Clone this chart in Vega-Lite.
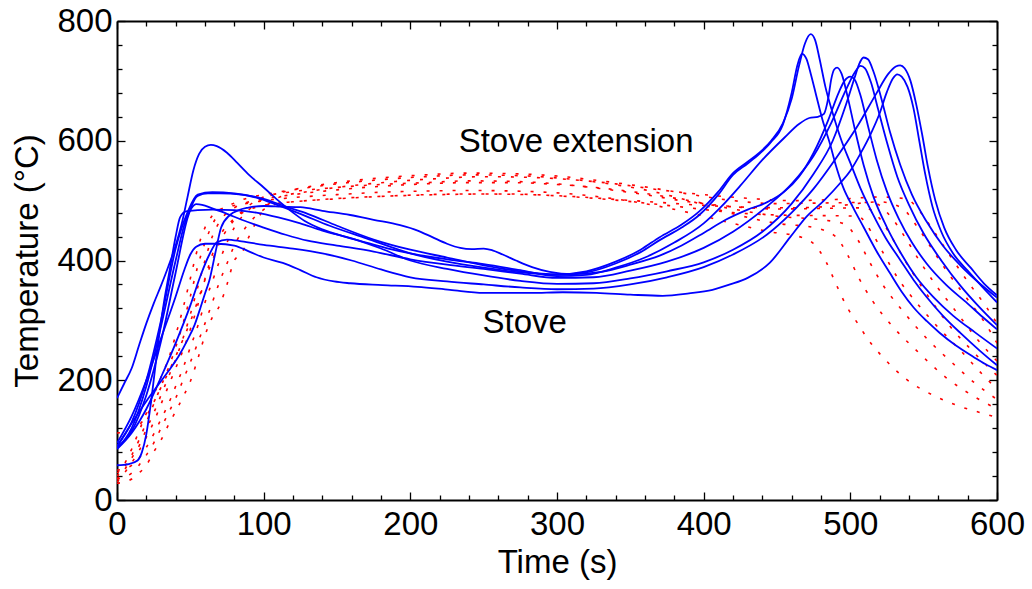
{
  "$schema": "https://vega.github.io/schema/vega-lite/v6.json",
  "width": 880,
  "height": 479,
  "autosize": {"type": "none"},
  "padding": {"left": 117, "top": 21, "right": 35, "bottom": 89},
  "background": "white",
  "config": {"view": {"stroke": null}},
  "datasets": {
    "stove": [
      {"s":"A","t":0,"T":88},{"s":"A","t":10,"T":115},{"s":"A","t":20,"T":175},{"s":"A","t":30,"T":265},{"s":"A","t":40,"T":380},{"s":"A","t":48,"T":470},{"s":"A","t":55,"T":508},{"s":"A","t":62,"T":512},{"s":"A","t":70,"T":512},{"s":"A","t":85,"T":510},{"s":"A","t":100,"T":503},{"s":"A","t":115,"T":490},{"s":"A","t":130,"T":478},{"s":"A","t":150,"T":458},{"s":"A","t":175,"T":435},{"s":"A","t":200,"T":418},{"s":"A","t":225,"T":405},{"s":"A","t":250,"T":392},{"s":"A","t":275,"T":382},{"s":"A","t":300,"T":377},{"s":"A","t":320,"T":382},{"s":"A","t":340,"T":398},{"s":"A","t":357,"T":418},{"s":"A","t":370,"T":439},{"s":"A","t":385,"T":460},{"s":"A","t":397,"T":482},{"s":"A","t":410,"T":515},{"s":"A","t":420,"T":546},{"s":"A","t":430,"T":565},{"s":"A","t":438,"T":580},{"s":"A","t":446,"T":600},{"s":"A","t":454,"T":629},{"s":"A","t":460,"T":670},{"s":"A","t":465,"T":725},{"s":"A","t":469,"T":762},{"s":"A","t":473,"T":778},{"s":"A","t":476,"T":768},{"s":"A","t":479,"T":737},{"s":"A","t":483,"T":690},{"s":"A","t":488,"T":646},{"s":"A","t":494,"T":600},{"s":"A","t":500,"T":563},{"s":"A","t":507,"T":520},{"s":"A","t":515,"T":479},{"s":"A","t":524,"T":438},{"s":"A","t":534,"T":401},{"s":"A","t":543,"T":368},{"s":"A","t":552,"T":339},{"s":"A","t":563,"T":308},{"s":"A","t":575,"T":279},{"s":"A","t":588,"T":250},{"s":"A","t":600,"T":225},
      {"s":"B","t":0,"T":90},{"s":"B","t":10,"T":130},{"s":"B","t":20,"T":200},{"s":"B","t":30,"T":300},{"s":"B","t":40,"T":420},{"s":"B","t":48,"T":480},{"s":"B","t":55,"T":510},{"s":"B","t":65,"T":514},{"s":"B","t":80,"T":512},{"s":"B","t":95,"T":505},{"s":"B","t":110,"T":492},{"s":"B","t":125,"T":478},{"s":"B","t":145,"T":458},{"s":"B","t":170,"T":437},{"s":"B","t":200,"T":412},{"s":"B","t":225,"T":398},{"s":"B","t":250,"T":388},{"s":"B","t":275,"T":380},{"s":"B","t":300,"T":376},{"s":"B","t":320,"T":380},{"s":"B","t":340,"T":395},{"s":"B","t":357,"T":414},{"s":"B","t":370,"T":434},{"s":"B","t":385,"T":455},{"s":"B","t":397,"T":476},{"s":"B","t":410,"T":510},{"s":"B","t":420,"T":543},{"s":"B","t":430,"T":562},{"s":"B","t":438,"T":578},{"s":"B","t":446,"T":598},{"s":"B","t":454,"T":627},{"s":"B","t":460,"T":680},{"s":"B","t":464,"T":727},{"s":"B","t":467,"T":745},{"s":"B","t":470,"T":737},{"s":"B","t":473,"T":712},{"s":"B","t":477,"T":673},{"s":"B","t":481,"T":635},{"s":"B","t":486,"T":596},{"s":"B","t":490,"T":560},{"s":"B","t":495,"T":523},{"s":"B","t":502,"T":488},{"s":"B","t":509,"T":456},{"s":"B","t":518,"T":415},{"s":"B","t":527,"T":379},{"s":"B","t":535,"T":348},{"s":"B","t":543,"T":322},{"s":"B","t":552,"T":299},{"s":"B","t":561,"T":279},{"s":"B","t":572,"T":258},{"s":"B","t":584,"T":239},{"s":"B","t":592,"T":227},{"s":"B","t":600,"T":217},
      {"s":"C","t":0,"T":170},{"s":"C","t":5,"T":195},{"s":"C","t":10,"T":220},{"s":"C","t":15,"T":258},{"s":"C","t":20,"T":295},{"s":"C","t":25,"T":328},{"s":"C","t":30,"T":358},{"s":"C","t":35,"T":390},{"s":"C","t":40,"T":425},{"s":"C","t":44,"T":460},{"s":"C","t":48,"T":505},{"s":"C","t":52,"T":550},{"s":"C","t":56,"T":578},{"s":"C","t":60,"T":590},{"s":"C","t":64,"T":593},{"s":"C","t":68,"T":591},{"s":"C","t":75,"T":580},{"s":"C","t":82,"T":563},{"s":"C","t":90,"T":543},{"s":"C","t":100,"T":522},{"s":"C","t":110,"T":500},{"s":"C","t":120,"T":480},{"s":"C","t":128,"T":466},{"s":"C","t":140,"T":452},{"s":"C","t":155,"T":440},{"s":"C","t":170,"T":430},{"s":"C","t":185,"T":420},{"s":"C","t":200,"T":412},{"s":"C","t":225,"T":402},{"s":"C","t":250,"T":394},{"s":"C","t":275,"T":384},{"s":"C","t":300,"T":374},{"s":"C","t":320,"T":376},{"s":"C","t":340,"T":388},{"s":"C","t":360,"T":405},{"s":"C","t":380,"T":430},{"s":"C","t":400,"T":462},{"s":"C","t":412,"T":490},{"s":"C","t":425,"T":525},{"s":"C","t":440,"T":568},{"s":"C","t":455,"T":605},{"s":"C","t":465,"T":628},{"s":"C","t":472,"T":638},{"s":"C","t":478,"T":640},{"s":"C","t":482,"T":645},{"s":"C","t":485,"T":672},{"s":"C","t":487,"T":703},{"s":"C","t":489,"T":719},{"s":"C","t":491,"T":722},{"s":"C","t":494,"T":712},{"s":"C","t":498,"T":675},{"s":"C","t":503,"T":620},{"s":"C","t":509,"T":560},{"s":"C","t":516,"T":505},{"s":"C","t":525,"T":455},{"s":"C","t":535,"T":410},{"s":"C","t":545,"T":372},{"s":"C","t":557,"T":338},{"s":"C","t":570,"T":308},{"s":"C","t":585,"T":280},{"s":"C","t":600,"T":253},
      {"s":"D","t":0,"T":89},{"s":"D","t":10,"T":128},{"s":"D","t":20,"T":165},{"s":"D","t":28,"T":192},{"s":"D","t":35,"T":215},{"s":"D","t":42,"T":240},{"s":"D","t":48,"T":267},{"s":"D","t":53,"T":293},{"s":"D","t":57,"T":322},{"s":"D","t":60,"T":345},{"s":"D","t":63,"T":367},{"s":"D","t":67,"T":412},{"s":"D","t":71,"T":455},{"s":"D","t":77,"T":476},{"s":"D","t":83,"T":484},{"s":"D","t":89,"T":488},{"s":"D","t":100,"T":491},{"s":"D","t":112,"T":490},{"s":"D","t":125,"T":489},{"s":"D","t":140,"T":483},{"s":"D","t":159,"T":476},{"s":"D","t":175,"T":468},{"s":"D","t":193,"T":459},{"s":"D","t":205,"T":450},{"s":"D","t":215,"T":439},{"s":"D","t":225,"T":428},{"s":"D","t":234,"T":421},{"s":"D","t":242,"T":419},{"s":"D","t":250,"T":420},{"s":"D","t":256,"T":417},{"s":"D","t":263,"T":410},{"s":"D","t":272,"T":400},{"s":"D","t":283,"T":389},{"s":"D","t":295,"T":381},{"s":"D","t":310,"T":377},{"s":"D","t":330,"T":381},{"s":"D","t":350,"T":393},{"s":"D","t":370,"T":408},{"s":"D","t":385,"T":425},{"s":"D","t":400,"T":446},{"s":"D","t":415,"T":468},{"s":"D","t":430,"T":485},{"s":"D","t":443,"T":497},{"s":"D","t":455,"T":515},{"s":"D","t":465,"T":540},{"s":"D","t":475,"T":580},{"s":"D","t":485,"T":635},{"s":"D","t":492,"T":680},{"s":"D","t":496,"T":700},{"s":"D","t":500,"T":707},{"s":"D","t":503,"T":702},{"s":"D","t":507,"T":675},{"s":"D","t":512,"T":625},{"s":"D","t":518,"T":568},{"s":"D","t":525,"T":515},{"s":"D","t":533,"T":470},{"s":"D","t":542,"T":430},{"s":"D","t":552,"T":395},{"s":"D","t":565,"T":360},{"s":"D","t":580,"T":328},{"s":"D","t":590,"T":306},{"s":"D","t":600,"T":285},
      {"s":"E","t":0,"T":86},{"s":"E","t":10,"T":120},{"s":"E","t":20,"T":190},{"s":"E","t":30,"T":290},{"s":"E","t":40,"T":400},{"s":"E","t":47,"T":468},{"s":"E","t":51,"T":488},{"s":"E","t":54,"T":494},{"s":"E","t":58,"T":493},{"s":"E","t":65,"T":487},{"s":"E","t":75,"T":478},{"s":"E","t":85,"T":468},{"s":"E","t":100,"T":455},{"s":"E","t":115,"T":443},{"s":"E","t":130,"T":433},{"s":"E","t":150,"T":425},{"s":"E","t":175,"T":415},{"s":"E","t":200,"T":402},{"s":"E","t":225,"T":393},{"s":"E","t":250,"T":386},{"s":"E","t":275,"T":378},{"s":"E","t":300,"T":371},{"s":"E","t":325,"T":372},{"s":"E","t":350,"T":383},{"s":"E","t":375,"T":398},{"s":"E","t":400,"T":421},{"s":"E","t":420,"T":448},{"s":"E","t":443,"T":490},{"s":"E","t":460,"T":528},{"s":"E","t":475,"T":575},{"s":"E","t":487,"T":630},{"s":"E","t":497,"T":685},{"s":"E","t":503,"T":714},{"s":"E","t":507,"T":725},{"s":"E","t":510,"T":721},{"s":"E","t":514,"T":698},{"s":"E","t":519,"T":652},{"s":"E","t":525,"T":597},{"s":"E","t":532,"T":540},{"s":"E","t":540,"T":493},{"s":"E","t":550,"T":445},{"s":"E","t":562,"T":400},{"s":"E","t":575,"T":358},{"s":"E","t":588,"T":322},{"s":"E","t":600,"T":292},
      {"s":"H","t":0,"T":58},{"s":"H","t":8,"T":60},{"s":"H","t":14,"T":66},{"s":"H","t":17,"T":80},{"s":"H","t":20,"T":110},{"s":"H","t":23,"T":160},{"s":"H","t":26,"T":220},{"s":"H","t":29,"T":280},{"s":"H","t":32,"T":330},{"s":"H","t":36,"T":385},{"s":"H","t":40,"T":440},{"s":"H","t":43,"T":472},{"s":"H","t":47,"T":482},{"s":"H","t":55,"T":484},{"s":"H","t":65,"T":485},{"s":"H","t":80,"T":484},{"s":"H","t":95,"T":480},{"s":"H","t":110,"T":472},{"s":"H","t":125,"T":462},{"s":"H","t":140,"T":450},{"s":"H","t":160,"T":437},{"s":"H","t":180,"T":420},{"s":"H","t":200,"T":400},{"s":"H","t":225,"T":386},{"s":"H","t":250,"T":375},{"s":"H","t":275,"T":366},{"s":"H","t":300,"T":361},{"s":"H","t":325,"T":362},{"s":"H","t":350,"T":370},{"s":"H","t":375,"T":382},{"s":"H","t":400,"T":397},{"s":"H","t":420,"T":418},{"s":"H","t":440,"T":448},{"s":"H","t":460,"T":495},{"s":"H","t":475,"T":545},{"s":"H","t":488,"T":600},{"s":"H","t":497,"T":660},{"s":"H","t":503,"T":706},{"s":"H","t":506,"T":728},{"s":"H","t":509,"T":739},{"s":"H","t":512,"T":736},{"s":"H","t":516,"T":714},{"s":"H","t":521,"T":672},{"s":"H","t":527,"T":615},{"s":"H","t":534,"T":560},{"s":"H","t":542,"T":510},{"s":"H","t":552,"T":465},{"s":"H","t":563,"T":425},{"s":"H","t":575,"T":392},{"s":"H","t":588,"T":362},{"s":"H","t":600,"T":338},
      {"s":"F","t":0,"T":85},{"s":"F","t":10,"T":112},{"s":"F","t":20,"T":152},{"s":"F","t":30,"T":205},{"s":"F","t":40,"T":262},{"s":"F","t":50,"T":325},{"s":"F","t":57,"T":375},{"s":"F","t":63,"T":410},{"s":"F","t":68,"T":430},{"s":"F","t":75,"T":435},{"s":"F","t":85,"T":432},{"s":"F","t":100,"T":426},{"s":"F","t":120,"T":420},{"s":"F","t":140,"T":412},{"s":"F","t":160,"T":400},{"s":"F","t":180,"T":385},{"s":"F","t":200,"T":372},{"s":"F","t":225,"T":365},{"s":"F","t":250,"T":360},{"s":"F","t":275,"T":355},{"s":"F","t":300,"T":352},{"s":"F","t":325,"T":353},{"s":"F","t":350,"T":360},{"s":"F","t":375,"T":372},{"s":"F","t":400,"T":389},{"s":"F","t":420,"T":410},{"s":"F","t":443,"T":443},{"s":"F","t":460,"T":480},{"s":"F","t":475,"T":520},{"s":"F","t":490,"T":570},{"s":"F","t":505,"T":625},{"s":"F","t":518,"T":680},{"s":"F","t":526,"T":712},{"s":"F","t":531,"T":724},{"s":"F","t":534,"T":726},{"s":"F","t":537,"T":721},{"s":"F","t":541,"T":700},{"s":"F","t":545,"T":660},{"s":"F","t":549,"T":610},{"s":"F","t":553,"T":555},{"s":"F","t":558,"T":500},{"s":"F","t":564,"T":455},{"s":"F","t":572,"T":418},{"s":"F","t":582,"T":388},{"s":"F","t":591,"T":362},{"s":"F","t":600,"T":342},
      {"s":"G","t":0,"T":95},{"s":"G","t":10,"T":140},{"s":"G","t":20,"T":200},{"s":"G","t":30,"T":270},{"s":"G","t":40,"T":340},{"s":"G","t":46,"T":385},{"s":"G","t":50,"T":410},{"s":"G","t":54,"T":423},{"s":"G","t":60,"T":428},{"s":"G","t":68,"T":428},{"s":"G","t":80,"T":425},{"s":"G","t":91,"T":414},{"s":"G","t":100,"T":405},{"s":"G","t":113,"T":396},{"s":"G","t":125,"T":384},{"s":"G","t":136,"T":372},{"s":"G","t":148,"T":365},{"s":"G","t":159,"T":362},{"s":"G","t":181,"T":359},{"s":"G","t":205,"T":356},{"s":"G","t":227,"T":351},{"s":"G","t":250,"T":346},{"s":"G","t":282,"T":346},{"s":"G","t":304,"T":347},{"s":"G","t":327,"T":346},{"s":"G","t":350,"T":343},{"s":"G","t":372,"T":341},{"s":"G","t":390,"T":345},{"s":"G","t":406,"T":351},{"s":"G","t":418,"T":360},{"s":"G","t":430,"T":371},{"s":"G","t":445,"T":396},{"s":"G","t":459,"T":439},{"s":"G","t":470,"T":473},{"s":"G","t":482,"T":500},{"s":"G","t":493,"T":529},{"s":"G","t":500,"T":550},{"s":"G","t":507,"T":579},{"s":"G","t":514,"T":612},{"s":"G","t":520,"T":646},{"s":"G","t":525,"T":682},{"s":"G","t":529,"T":704},{"s":"G","t":532,"T":711},{"s":"G","t":535,"T":707},{"s":"G","t":539,"T":690},{"s":"G","t":543,"T":655},{"s":"G","t":547,"T":600},{"s":"G","t":551,"T":545},{"s":"G","t":556,"T":490},{"s":"G","t":562,"T":448},{"s":"G","t":570,"T":412},{"s":"G","t":580,"T":383},{"s":"G","t":590,"T":356},{"s":"G","t":600,"T":330}
    ],
    "ext": [
      {"s":"r1","t":0,"T":45},{"s":"r1","t":5,"T":60},{"s":"r1","t":10,"T":85},{"s":"r1","t":15,"T":115},{"s":"r1","t":20,"T":145},{"s":"r1","t":25,"T":175},{"s":"r1","t":30,"T":205},{"s":"r1","t":35,"T":235},{"s":"r1","t":40,"T":275},{"s":"r1","t":45,"T":320},{"s":"r1","t":50,"T":370},{"s":"r1","t":55,"T":420},{"s":"r1","t":60,"T":455},{"s":"r1","t":65,"T":475},{"s":"r1","t":70,"T":485},{"s":"r1","t":80,"T":492},{"s":"r1","t":90,"T":496},{"s":"r1","t":100,"T":500},{"s":"r1","t":120,"T":505},{"s":"r1","t":150,"T":510},{"s":"r1","t":180,"T":514},{"s":"r1","t":210,"T":516},{"s":"r1","t":240,"T":517},{"s":"r1","t":270,"T":516},{"s":"r1","t":300,"T":513},{"s":"r1","t":330,"T":506},{"s":"r1","t":360,"T":495},{"s":"r1","t":390,"T":480},{"s":"r1","t":420,"T":462},{"s":"r1","t":445,"T":448},{"s":"r1","t":465,"T":440},{"s":"r1","t":475,"T":428},{"s":"r1","t":483,"T":400},{"s":"r1","t":490,"T":362},{"s":"r1","t":498,"T":321},{"s":"r1","t":505,"T":295},{"s":"r1","t":511,"T":272},{"s":"r1","t":522,"T":239},{"s":"r1","t":538,"T":202},{"s":"r1","t":559,"T":172},{"s":"r1","t":575,"T":156},{"s":"r1","t":590,"T":145},{"s":"r1","t":600,"T":138},
      {"s":"r2","t":0,"T":40},{"s":"r2","t":5,"T":55},{"s":"r2","t":10,"T":75},{"s":"r2","t":15,"T":100},{"s":"r2","t":20,"T":130},{"s":"r2","t":25,"T":160},{"s":"r2","t":30,"T":190},{"s":"r2","t":35,"T":220},{"s":"r2","t":40,"T":255},{"s":"r2","t":45,"T":295},{"s":"r2","t":50,"T":340},{"s":"r2","t":55,"T":390},{"s":"r2","t":60,"T":430},{"s":"r2","t":65,"T":460},{"s":"r2","t":70,"T":480},{"s":"r2","t":80,"T":496},{"s":"r2","t":90,"T":505},{"s":"r2","t":100,"T":510},{"s":"r2","t":120,"T":518},{"s":"r2","t":150,"T":528},{"s":"r2","t":180,"T":535},{"s":"r2","t":210,"T":540},{"s":"r2","t":240,"T":543},{"s":"r2","t":270,"T":542},{"s":"r2","t":300,"T":538},{"s":"r2","t":330,"T":530},{"s":"r2","t":360,"T":518},{"s":"r2","t":390,"T":500},{"s":"r2","t":420,"T":478},{"s":"r2","t":450,"T":462},{"s":"r2","t":475,"T":455},{"s":"r2","t":490,"T":440},{"s":"r2","t":498,"T":410},{"s":"r2","t":506,"T":370},{"s":"r2","t":515,"T":333},{"s":"r2","t":528,"T":292},{"s":"r2","t":545,"T":250},{"s":"r2","t":565,"T":205},{"s":"r2","t":585,"T":172},{"s":"r2","t":600,"T":152},
      {"s":"r3","t":0,"T":35},{"s":"r3","t":5,"T":50},{"s":"r3","t":10,"T":70},{"s":"r3","t":15,"T":90},{"s":"r3","t":20,"T":118},{"s":"r3","t":25,"T":145},{"s":"r3","t":30,"T":175},{"s":"r3","t":35,"T":205},{"s":"r3","t":40,"T":235},{"s":"r3","t":45,"T":270},{"s":"r3","t":50,"T":310},{"s":"r3","t":55,"T":355},{"s":"r3","t":60,"T":400},{"s":"r3","t":65,"T":440},{"s":"r3","t":70,"T":465},{"s":"r3","t":80,"T":488},{"s":"r3","t":90,"T":498},{"s":"r3","t":100,"T":503},{"s":"r3","t":120,"T":510},{"s":"r3","t":150,"T":518},{"s":"r3","t":180,"T":524},{"s":"r3","t":210,"T":528},{"s":"r3","t":240,"T":530},{"s":"r3","t":270,"T":530},{"s":"r3","t":300,"T":527},{"s":"r3","t":330,"T":521},{"s":"r3","t":360,"T":512},{"s":"r3","t":390,"T":500},{"s":"r3","t":420,"T":486},{"s":"r3","t":450,"T":474},{"s":"r3","t":480,"T":468},{"s":"r3","t":495,"T":462},{"s":"r3","t":505,"T":435},{"s":"r3","t":513,"T":398},{"s":"r3","t":522,"T":360},{"s":"r3","t":535,"T":318},{"s":"r3","t":552,"T":270},{"s":"r3","t":570,"T":228},{"s":"r3","t":585,"T":195},{"s":"r3","t":600,"T":168},
      {"s":"r4","t":0,"T":30},{"s":"r4","t":5,"T":45},{"s":"r4","t":10,"T":62},{"s":"r4","t":15,"T":82},{"s":"r4","t":20,"T":105},{"s":"r4","t":25,"T":130},{"s":"r4","t":30,"T":160},{"s":"r4","t":35,"T":190},{"s":"r4","t":40,"T":220},{"s":"r4","t":45,"T":250},{"s":"r4","t":50,"T":285},{"s":"r4","t":55,"T":325},{"s":"r4","t":60,"T":370},{"s":"r4","t":65,"T":410},{"s":"r4","t":70,"T":440},{"s":"r4","t":80,"T":470},{"s":"r4","t":90,"T":485},{"s":"r4","t":100,"T":492},{"s":"r4","t":120,"T":498},{"s":"r4","t":150,"T":503},{"s":"r4","t":180,"T":507},{"s":"r4","t":210,"T":510},{"s":"r4","t":240,"T":511},{"s":"r4","t":270,"T":511},{"s":"r4","t":300,"T":508},{"s":"r4","t":330,"T":503},{"s":"r4","t":360,"T":496},{"s":"r4","t":390,"T":488},{"s":"r4","t":420,"T":480},{"s":"r4","t":450,"T":476},{"s":"r4","t":480,"T":475},{"s":"r4","t":505,"T":474},{"s":"r4","t":515,"T":445},{"s":"r4","t":523,"T":410},{"s":"r4","t":532,"T":372},{"s":"r4","t":545,"T":330},{"s":"r4","t":560,"T":288},{"s":"r4","t":575,"T":250},{"s":"r4","t":590,"T":210},{"s":"r4","t":600,"T":185},
      {"s":"r5","t":0,"T":112},{"s":"r5","t":5,"T":113},{"s":"r5","t":10,"T":116},{"s":"r5","t":15,"T":125},{"s":"r5","t":20,"T":140},{"s":"r5","t":25,"T":163},{"s":"r5","t":30,"T":188},{"s":"r5","t":35,"T":213},{"s":"r5","t":40,"T":240},{"s":"r5","t":45,"T":268},{"s":"r5","t":50,"T":298},{"s":"r5","t":55,"T":332},{"s":"r5","t":60,"T":368},{"s":"r5","t":65,"T":400},{"s":"r5","t":70,"T":430},{"s":"r5","t":80,"T":468},{"s":"r5","t":90,"T":492},{"s":"r5","t":100,"T":506},{"s":"r5","t":120,"T":515},{"s":"r5","t":150,"T":522},{"s":"r5","t":180,"T":527},{"s":"r5","t":210,"T":530},{"s":"r5","t":240,"T":533},{"s":"r5","t":270,"T":532},{"s":"r5","t":300,"T":528},{"s":"r5","t":330,"T":520},{"s":"r5","t":360,"T":510},{"s":"r5","t":390,"T":498},{"s":"r5","t":420,"T":490},{"s":"r5","t":450,"T":486},{"s":"r5","t":480,"T":487},{"s":"r5","t":510,"T":488},{"s":"r5","t":520,"T":470},{"s":"r5","t":528,"T":440},{"s":"r5","t":536,"T":405},{"s":"r5","t":545,"T":370},{"s":"r5","t":556,"T":330},{"s":"r5","t":568,"T":290},{"s":"r5","t":582,"T":252},{"s":"r5","t":600,"T":208},
      {"s":"r6","t":0,"T":50},{"s":"r6","t":5,"T":52},{"s":"r6","t":10,"T":58},{"s":"r6","t":15,"T":70},{"s":"r6","t":20,"T":88},{"s":"r6","t":25,"T":110},{"s":"r6","t":30,"T":135},{"s":"r6","t":35,"T":160},{"s":"r6","t":40,"T":190},{"s":"r6","t":45,"T":220},{"s":"r6","t":50,"T":255},{"s":"r6","t":55,"T":290},{"s":"r6","t":60,"T":330},{"s":"r6","t":65,"T":365},{"s":"r6","t":70,"T":400},{"s":"r6","t":75,"T":430},{"s":"r6","t":80,"T":455},{"s":"r6","t":90,"T":485},{"s":"r6","t":100,"T":503},{"s":"r6","t":120,"T":518},{"s":"r6","t":150,"T":530},{"s":"r6","t":180,"T":538},{"s":"r6","t":210,"T":543},{"s":"r6","t":240,"T":546},{"s":"r6","t":270,"T":545},{"s":"r6","t":300,"T":541},{"s":"r6","t":330,"T":533},{"s":"r6","t":360,"T":523},{"s":"r6","t":390,"T":511},{"s":"r6","t":420,"T":500},{"s":"r6","t":450,"T":495},{"s":"r6","t":480,"T":496},{"s":"r6","t":515,"T":497},{"s":"r6","t":527,"T":475},{"s":"r6","t":537,"T":440},{"s":"r6","t":547,"T":400},{"s":"r6","t":558,"T":360},{"s":"r6","t":572,"T":315},{"s":"r6","t":586,"T":270},{"s":"r6","t":600,"T":232},
      {"s":"r7","t":0,"T":35},{"s":"r7","t":5,"T":38},{"s":"r7","t":10,"T":45},{"s":"r7","t":15,"T":58},{"s":"r7","t":20,"T":75},{"s":"r7","t":25,"T":95},{"s":"r7","t":30,"T":120},{"s":"r7","t":35,"T":145},{"s":"r7","t":40,"T":170},{"s":"r7","t":45,"T":200},{"s":"r7","t":50,"T":230},{"s":"r7","t":55,"T":262},{"s":"r7","t":60,"T":295},{"s":"r7","t":65,"T":330},{"s":"r7","t":70,"T":365},{"s":"r7","t":75,"T":395},{"s":"r7","t":80,"T":425},{"s":"r7","t":90,"T":462},{"s":"r7","t":100,"T":485},{"s":"r7","t":110,"T":495},{"s":"r7","t":130,"T":500},{"s":"r7","t":160,"T":505},{"s":"r7","t":190,"T":508},{"s":"r7","t":220,"T":510},{"s":"r7","t":250,"T":511},{"s":"r7","t":280,"T":510},{"s":"r7","t":310,"T":507},{"s":"r7","t":340,"T":502},{"s":"r7","t":370,"T":497},{"s":"r7","t":400,"T":492},{"s":"r7","t":430,"T":489},{"s":"r7","t":460,"T":488},{"s":"r7","t":490,"T":491},{"s":"r7","t":520,"T":498},{"s":"r7","t":535,"T":488},{"s":"r7","t":546,"T":455},{"s":"r7","t":556,"T":418},{"s":"r7","t":567,"T":378},{"s":"r7","t":580,"T":335},{"s":"r7","t":592,"T":295},{"s":"r7","t":600,"T":262},
      {"s":"r8","t":0,"T":28},{"s":"r8","t":5,"T":30},{"s":"r8","t":10,"T":35},{"s":"r8","t":15,"T":45},{"s":"r8","t":20,"T":58},{"s":"r8","t":25,"T":80},{"s":"r8","t":30,"T":100},{"s":"r8","t":35,"T":125},{"s":"r8","t":40,"T":148},{"s":"r8","t":45,"T":172},{"s":"r8","t":50,"T":198},{"s":"r8","t":55,"T":235},{"s":"r8","t":60,"T":275},{"s":"r8","t":65,"T":305},{"s":"r8","t":70,"T":325},{"s":"r8","t":75,"T":360},{"s":"r8","t":80,"T":400},{"s":"r8","t":85,"T":412},{"s":"r8","t":90,"T":440},{"s":"r8","t":100,"T":485},{"s":"r8","t":110,"T":505},{"s":"r8","t":130,"T":515},{"s":"r8","t":160,"T":525},{"s":"r8","t":190,"T":532},{"s":"r8","t":220,"T":537},{"s":"r8","t":250,"T":540},{"s":"r8","t":280,"T":539},{"s":"r8","t":310,"T":535},{"s":"r8","t":340,"T":528},{"s":"r8","t":370,"T":518},{"s":"r8","t":400,"T":510},{"s":"r8","t":430,"T":504},{"s":"r8","t":460,"T":500},{"s":"r8","t":490,"T":502},{"s":"r8","t":520,"T":506},{"s":"r8","t":538,"T":503},{"s":"r8","t":548,"T":480},{"s":"r8","t":558,"T":445},{"s":"r8","t":568,"T":408},{"s":"r8","t":580,"T":365},{"s":"r8","t":592,"T":325},{"s":"r8","t":600,"T":295}
    ]
  },
  "layer": [
    {
      "data": {"name": "ext"},
      "mark": {"type": "line", "color": "#ff0000", "strokeWidth": 1.6, "strokeDash": [3, 10], "interpolate": "monotone", "clip": true},
      "encoding": {
        "x": {"field": "t", "type": "quantitative", "scale": {"domain": [0, 600], "nice": false, "zero": false},
          "axis": {"orient": "top", "values": [0,20,40,60,80,100,120,140,160,180,200,220,240,260,280,300,320,340,360,380,400,420,440,460,480,500,520,540,560,580,600],
            "labels": false, "title": null, "grid": false, "domainColor": "black", "domainWidth": 2, "tickColor": "black", "tickWidth": 1.3,
            "tickSize": {"condition": {"test": "datum.value % 100 === 0", "value": -8}, "value": -5}}},
        "y": {"field": "T", "type": "quantitative", "scale": {"domain": [0, 800], "nice": false, "zero": false},
          "axis": {"orient": "right", "values": [0,40,80,120,160,200,240,280,320,360,400,440,480,520,560,600,640,680,720,760,800],
            "labels": false, "title": null, "grid": false, "domainColor": "black", "domainWidth": 2, "tickColor": "black", "tickWidth": 1.3,
            "tickSize": {"condition": {"test": "datum.value % 200 === 0", "value": -8}, "value": -5}}},
        "detail": {"field": "s"}
      }
    },
    {
      "data": {"name": "stove"},
      "mark": {"type": "line", "color": "#0000ff", "strokeWidth": 1.8, "interpolate": "monotone", "clip": true},
      "encoding": {
        "x": {"field": "t", "type": "quantitative", "scale": {"domain": [0, 600], "nice": false, "zero": false},
          "axis": {"orient": "bottom", "values": [0,20,40,60,80,100,120,140,160,180,200,220,240,260,280,300,320,340,360,380,400,420,440,460,480,500,520,540,560,580,600],
            "labelExpr": "datum.value % 100 === 0 ? datum.label : ''", "labelOverlap": false, "labelFlush": false,
            "labelFont": "Liberation Sans", "labelFontSize": 33, "labelColor": "black", "labelPadding": 16,
            "title": "Time (s)", "titleFont": "Liberation Sans", "titleFontSize": 33, "titleFontWeight": "normal", "titleColor": "black", "titlePadding": 2,
            "grid": false, "domainColor": "black", "domainWidth": 2, "tickColor": "black", "tickWidth": 1.3,
            "tickSize": {"condition": {"test": "datum.value % 100 === 0", "value": -8}, "value": -5}}},
        "y": {"field": "T", "type": "quantitative", "scale": {"domain": [0, 800], "nice": false, "zero": false},
          "axis": {"orient": "left", "values": [0,40,80,120,160,200,240,280,320,360,400,440,480,520,560,600,640,680,720,760,800],
            "labelExpr": "datum.value % 200 === 0 ? datum.label : ''", "labelOverlap": false, "labelFlush": false,
            "labelFont": "Liberation Sans", "labelFontSize": 33, "labelColor": "black", "labelPadding": 13,
            "title": "Temperature (°C)", "titleFont": "Liberation Sans", "titleFontSize": 33, "titleFontWeight": "normal", "titleColor": "black", "titlePadding": 12,
            "grid": false, "domainColor": "black", "domainWidth": 2, "tickColor": "black", "tickWidth": 1.3,
            "tickSize": {"condition": {"test": "datum.value % 200 === 0", "value": -8}, "value": -5}}},
        "detail": {"field": "s"}
      }
    },
    {
      "data": {"values": [{}]},
      "mark": {"type": "text", "text": "Stove extension", "font": "Liberation Sans", "fontSize": 33, "color": "black", "align": "center", "baseline": "alphabetic"},
      "encoding": {
        "x": {"datum": 313, "type": "quantitative", "axis": null},
        "y": {"datum": 581, "type": "quantitative", "axis": null}
      }
    },
    {
      "data": {"values": [{}]},
      "mark": {"type": "text", "text": "Stove", "font": "Liberation Sans", "fontSize": 33, "color": "black", "align": "center", "baseline": "alphabetic"},
      "encoding": {
        "x": {"datum": 278, "type": "quantitative", "axis": null},
        "y": {"datum": 279, "type": "quantitative", "axis": null}
      }
    }
  ],
  "resolve": {"axis": {"x": "independent", "y": "independent"}}
}
